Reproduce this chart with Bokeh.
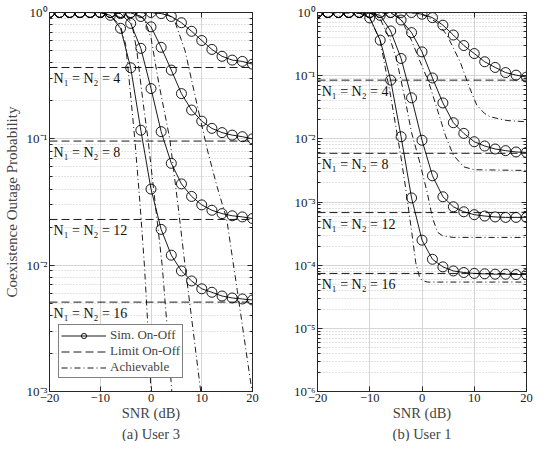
from bokeh.plotting import figure
from bokeh.layouts import row
from bokeh.models import (FixedTicker, Label, Legend, LegendItem, LinearAxis, LogAxis,
                          Title, CustomJSTickFormatter, Range1d)
from bokeh.embed import file_html
from bokeh.resources import INLINE

# ---------------- data ----------------
snr = list(range(-20, 21, 2))
x_ticks = [-20, -10, 0, 10, 20]
n_labels = ["N\u2081 = N\u2082 = 4", "N\u2081 = N\u2082 = 8",
            "N\u2081 = N\u2082 = 12", "N\u2081 = N\u2082 = 16"]

# (a) User 3 : simulated On-Off
sim3_n4 = [1, 1, 1, 1, 1, 1, 1, 1, 1, 1, 1.0, 0.98, 0.93, 0.83, 0.71, 0.60, 0.51, 0.45, 0.42, 0.41, 0.39]
sim3_n8 = [1, 1, 1, 1, 1, 1, 1, 1, 0.995, 0.93, 0.77, 0.53, 0.35, 0.228, 0.169, 0.138, 0.121, 0.112, 0.107, 0.104, 0.100]
sim3_n12 = [1, 1, 1, 1, 1, 1, 1, 0.98, 0.82, 0.52, 0.25, 0.114, 0.064, 0.044, 0.035, 0.030, 0.0272, 0.0256, 0.0246, 0.0241, 0.0234]
sim3_n16 = [1, 1, 1, 1, 1, 1, 0.95, 0.75, 0.365, 0.117, 0.040, 0.0192, 0.012, 0.0090, 0.0075, 0.0065, 0.0061, 0.0057, 0.0055, 0.0054, 0.0053]
lim3 = [0.367, 0.096, 0.023, 0.0051]

# (a) User 3 : achievable
ach3_n16_x = [-20, -12, -10, -8, -6, -5, -4, -3.2, -2.2, -1.3, -0.6, 0, 0.6]
ach3_n16_y = [1, 1, 0.995, 0.95, 0.78, 0.56, 0.22, 0.10, 0.032, 0.010, 0.0032, 0.001, 0.00025]
ach3_n12_x = [-20, -10, -8, -6, -5, -3.8, -2.8, -1.6, -0.6, 0.8, 2.2, 3.2, 4.1, 4.8]
ach3_n12_y = [1, 1, 0.995, 0.986, 0.955, 0.83, 0.5, 0.2, 0.1, 0.0316, 0.01, 0.00316, 0.001, 0.000316]
ach3_n8_x = [-20, -4, -3, -1.3, 0, 1.5, 3.7, 5.4, 6.7, 9.8, 10.5]
ach3_n8_y = [1, 1, 0.99, 0.89, 0.63, 0.28, 0.1, 0.028, 0.01, 0.001, 0.00056]
ach3_n4_x = [-20, 2, 3, 4.5, 6.7, 9.3, 11.2, 13, 14.9, 17, 19.9, 20.5]
ach3_n4_y = [1, 0.995, 0.977, 0.895, 0.5, 0.17, 0.079, 0.042, 0.0234, 0.0063, 0.001, 0.0007]

# (b) User 1 : simulated On-Off
sim1_n4 = [1, 1, 1, 1, 1, 1, 1, 1, 1, 1, 0.94, 0.83, 0.63, 0.44, 0.30, 0.224, 0.166, 0.135, 0.112, 0.102, 0.095]
sim1_n8 = [1, 1, 1, 1, 1, 1, 1, 1, 0.76, 0.48, 0.238, 0.092, 0.037, 0.018, 0.0122, 0.0090, 0.0077, 0.0069, 0.0065, 0.0062, 0.0061]
sim1_n12 = [1, 1, 1, 1, 1, 0.995, 0.9, 0.51, 0.187, 0.0446, 0.0095, 0.0026, 0.00121, 0.00084, 0.00070, 0.00063, 0.00060, 0.00058, 0.00057, 0.00057, 0.00057]
sim1_n16 = [1, 1, 1, 1, 1, 0.82, 0.365, 0.085, 0.0108, 0.00116, 2.49e-4, 1.24e-4, 9.4e-5, 8.1e-5, 7.65e-5, 7.4e-5, 7.3e-5, 7.2e-5, 7.2e-5, 7.1e-5, 7.1e-5]
lim1 = [0.085, 0.0059, 0.00068, 7.4e-5]

# (b) User 1 : achievable
ach1_n16_x = [-20, -14, -12, -10, -8, -6, -4, -3, -2, -1.2, -0.5, 0, 1, 20]
ach1_n16_y = [1, 1, 0.977, 0.83, 0.355, 0.048, 0.005, 0.0014, 3.5e-4, 1.1e-4, 6.6e-5, 5.75e-5, 5.4e-5, 5.4e-5]
ach1_n12_x = [-20, -10, -8, -6, -4.9, -3.3, -2, -0.5, 1, 2, 3, 4, 6, 20]
ach1_n12_y = [1, 0.977, 0.79, 0.355, 0.186, 0.0447, 0.0126, 0.00447, 0.00141, 5.6e-4, 3.3e-4, 2.9e-4, 2.75e-4, 2.75e-4]
ach1_n8_x = [-20, -6, -4, -2, 0, 1.2, 2.8, 4.5, 6, 8, 10, 20]
ach1_n8_y = [1, 0.977, 0.79, 0.36, 0.141, 0.083, 0.0316, 0.0112, 0.0055, 0.0036, 0.00324, 0.00316]
ach1_n4_x = [-20, -2, 0, 1.7, 3, 4.8, 6, 7.4, 8.9, 10.5, 12, 13, 16.2, 20]
ach1_n4_y = [1, 0.989, 0.933, 0.80, 0.676, 0.437, 0.275, 0.158, 0.0708, 0.0339, 0.0251, 0.0224, 0.0195, 0.0186]

# ---------------- styling ----------------
FONT = "Liberation Serif"
AX = "#262626"
GRID = "#d6d6d6"
LW = 0.9
DASH = "8 4"
DASHDOT = "6 3 1 3"

log_fmt = CustomJSTickFormatter(code="""
const e = Math.round(Math.log10(tick));
const m = {'-':'\u207b','0':'\u2070','1':'\u00b9','2':'\u00b2','3':'\u00b3','4':'\u2074',
           '5':'\u2075','6':'\u2076','7':'\u2077','8':'\u2078','9':'\u2079'};
let s = '';
for (const c of String(e)) { s += m[c]; }
return '10' + s;
""")
blank_fmt = CustomJSTickFormatter(code="return ' ';")


def style_axis(ax):
    ax.major_tick_in = 5
    ax.major_tick_out = 0
    ax.minor_tick_in = 3
    ax.minor_tick_out = 0
    ax.axis_line_color = AX
    ax.major_tick_line_color = AX
    ax.minor_tick_line_color = AX
    ax.major_label_text_font = FONT
    ax.major_label_text_font_size = "13px"
    ax.major_label_text_color = "#222222"
    ax.major_label_standoff = 2


def make_panel(width, min_left, min_right, lo_exp, caption, ylabel):
    yt = FixedTicker(ticks=[10.0 ** e for e in range(lo_exp, 1)],
                     minor_ticks=[m * 10.0 ** e for e in range(lo_exp, 0) for m in range(2, 10)])
    xt = FixedTicker(ticks=x_ticks, minor_ticks=[])
    p = figure(width=width, height=441, x_range=Range1d(-20, 20),
               y_range=Range1d(10.0 ** lo_exp, 1), y_axis_type="log",
               output_backend="svg", toolbar_location=None,
               min_border_left=min_left, min_border_right=min_right,
               min_border_top=12, min_border_bottom=46)
    p.background_fill_color = "white"
    p.border_fill_color = "white"
    p.outline_line_color = AX
    p.xaxis.ticker = xt
    p.yaxis.ticker = yt
    p.yaxis.formatter = log_fmt
    for ax in (p.xaxis[0], p.yaxis[0]):
        style_axis(ax)
    p.xaxis.major_label_text_font_size = "12.5px"
    p.xaxis.axis_label = "SNR (dB)"
    p.xaxis.axis_label_text_font = FONT
    p.xaxis.axis_label_text_font_size = "14.5px"
    p.xaxis.axis_label_text_font_style = "normal"
    p.xaxis.axis_label_standoff = 0
    if ylabel:
        p.yaxis.axis_label = ylabel
        p.yaxis.axis_label_text_font = FONT
        p.yaxis.axis_label_text_font_size = "15px"
        p.yaxis.axis_label_text_font_style = "normal"
        p.yaxis.axis_label_standoff = 4
    top = LinearAxis(ticker=xt, formatter=blank_fmt)
    right = LogAxis(ticker=yt, formatter=blank_fmt)
    for ax in (top, right):
        style_axis(ax)
        ax.major_label_text_font_size = "2px"
        ax.major_label_standoff = 0
    p.add_layout(top, "above")
    p.add_layout(right, "right")
    p.xgrid.grid_line_color = GRID
    p.ygrid.grid_line_color = GRID
    p.ygrid.minor_grid_line_color = "#c4c4c4"
    p.ygrid.minor_grid_line_dash = "1 2"
    p.add_layout(Title(text=caption, align="center", text_font=FONT,
                       text_font_size="14.5px", text_font_style="normal",
                       standoff=0, offset=0, text_line_height=0.9), "below")
    return p


def fill_panel(p, sims, lims, achs, label_offset):
    first = None
    for vals in sims:
        lr = p.line(snr, vals, line_color="black", line_width=LW)
        sr = p.scatter(snr, vals, marker="circle", size=10, fill_color=None,
                       line_color="black", line_width=LW)
        if first is None:
            first = (lr, sr)
    lim_r = None
    for lim, txt in zip(lims, n_labels):
        r = p.line([snr[0], snr[-1]], [lim, lim], line_color="black",
                   line_width=LW, line_dash=DASH)
        lim_r = lim_r or r
        p.add_layout(Label(x=-19.2, y=lim, text=txt, text_font=FONT,
                           text_font_size="14px", text_baseline="top",
                           y_offset=label_offset, text_color="#111111"))
    ach_r = None
    for xs, ys in achs:
        r = p.line(xs, ys, line_color="black", line_width=LW, line_dash=DASHDOT)
        ach_r = ach_r or r
    return first, lim_r, ach_r


p1 = make_panel(262, 42, 10, -3, "(a) User 3", "Coexistence Outage Probability")
sim_rs, lim_r, ach_r = fill_panel(
    p1, [sim3_n4, sim3_n8, sim3_n12, sim3_n16], lim3,
    [(ach3_n16_x, ach3_n16_y), (ach3_n12_x, ach3_n12_y),
     (ach3_n8_x, ach3_n8_y), (ach3_n4_x, ach3_n4_y)], -4)

legend = Legend(items=[LegendItem(label="Sim. On-Off", renderers=list(sim_rs)),
                       LegendItem(label="Limit On-Off", renderers=[lim_r]),
                       LegendItem(label="Achievable", renderers=[ach_r])],
                location=(9, 13))
legend.border_line_color = "black"
legend.border_line_width = 1
legend.background_fill_color = "white"
legend.background_fill_alpha = 1
legend.label_text_font = FONT
legend.label_text_font_size = "13px"
legend.glyph_width = 45
legend.glyph_height = 13
legend.label_height = 13
legend.spacing = 0
legend.padding = 2
legend.margin = 0
legend.label_standoff = 4
p1.add_layout(legend, "center")

p2 = make_panel(272, 55, 8, -6, "(b) User 1", None)
fill_panel(p2, [sim1_n4, sim1_n8, sim1_n12, sim1_n16], lim1,
           [(ach1_n16_x, ach1_n16_y), (ach1_n12_x, ach1_n12_y),
            (ach1_n8_x, ach1_n8_y), (ach1_n4_x, ach1_n4_y)], -4)

layout = row(p1, p2)
with open("out.html", "w", encoding="utf-8") as f:
    f.write(file_html(layout, INLINE))
